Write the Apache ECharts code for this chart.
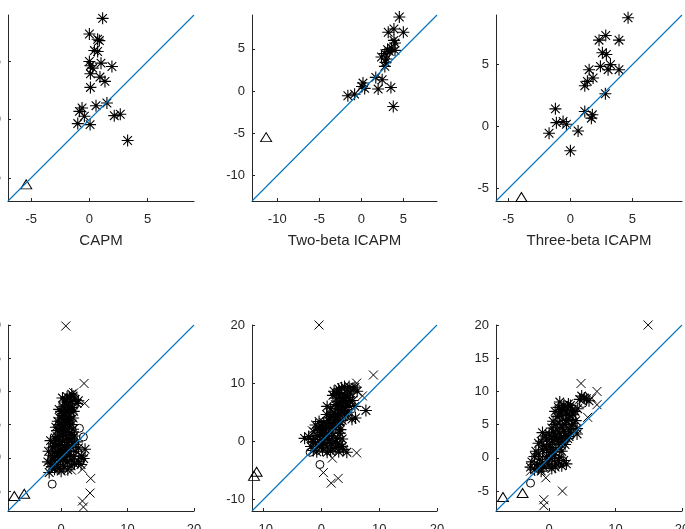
<!doctype html>
<html>
<head>
<meta charset="utf-8">
<title>Pricing errors</title>
<script src="https://cdn.jsdelivr.net/npm/echarts@6/dist/echarts.min.js"></script>
<style>
	html,body{margin:0;padding:0;background:#fff}
	#main{width:685px;height:529px}
</style>
</head>
<body>
<div id="main"></div>
<script>
	// top row: 25 portfolios (*) and the market (triangle)
	var capmStar = [[1.14,8.71],[0,7.37],[0.71,6.91],[0.86,6.8],[0.43,5.94],[0.71,5.86],[0,5.0],[1.0,4.86],[0.09,4.63],[0.29,4.43],
		[1.94,4.57],[0.09,3.94],[0.91,3.66],[1.34,3.29],[0.09,2.77],[1.51,1.43],[0.57,1.2],[-0.63,1.0],[-0.86,0.71],[-0.43,0.29],
		[-1.0,-0.34],[0.06,-0.43],[2.14,0.34],[2.66,0.46],[3.29,-1.8]]
	var capmTri = [[-5.43,-5.57]]

	var twoBetaStar = [[4.52,8.77],[3.88,7.35],[3.2,6.96],[5.0,6.96],[3.88,6.0],[4.0,5.69],[3.12,4.9],[3.32,4.7],[4.0,4.82],[2.8,4.43],
		[2.4,4.03],[3.0,3.79],[2.88,3.4],[2.8,2.92],[1.72,1.62],[2.48,1.34],[0.2,0.95],[0.08,0.55],[0.4,0.32],[2.0,0.24],
		[3.52,0.43],[-0.8,-0.36],[-1.6,-0.55],[3.8,-1.82],[3.6,5.1]]
	var twoBetaTri = [[-11.32,-5.45]]

	var threeBetaStar = [[4.65,8.78],[2.85,7.35],[2.31,6.97],[3.92,6.97],[2.58,5.95],[2.9,5.81],[3.23,5.0],[2.42,4.86],[3.04,4.59],[3.92,4.59],
		[1.51,4.59],[1.37,3.65],[1.83,3.92],[1.16,3.3],[2.82,2.65],[1.16,1.22],[1.77,0.95],[1.69,0.68],[-1.21,1.43],[-1.13,0.32],
		[-0.59,0.41],[-0.32,0.19],[-1.72,-0.54],[0.62,-0.35],[0.0,-1.95]]
	var threeBetaTri = [[-3.95,-5.68]]

	// bottom row: all test assets
	var capmAllStar = [[0.9,9.2],[1.3,9.0],[1.8,9.3],[2.1,8.8],[1.5,8.5],[0.5,8.4],[1.0,8.0],[2.4,8.2],[0.3,7.7],[1.2,7.5],
		[0.7,7.2],[1.7,7.6],[0.0,7.0],[0.9,6.8],[1.5,6.9],[0.4,6.4],[1.1,6.2],[-0.2,6.0],[0.6,5.8],[1.4,5.7],
		[0.2,5.4],[0.9,5.2],[-0.3,5.0],[0.5,4.8],[1.2,4.6],[1.8,4.3],[0.1,4.4],[-0.6,4.1],[0.7,4.0],[1.3,3.8],
		[-0.2,3.6],[0.4,3.4],[2.0,3.3],[-0.9,3.0],[0.8,3.0],[-0.4,2.7],[0.2,2.5],[1.0,2.3],[-1.1,2.2],[-0.5,2.0],
		[0.5,1.8],[1.5,1.6],[-1.3,1.5],[-0.2,1.3],[0.8,1.1],[2.2,1.0],[-0.9,0.9],[0.1,0.7],[1.3,0.5],[-1.5,0.4],
		[-0.5,0.3],[0.6,0.0],[1.9,0.2],[3.1,0.3],[3.6,1.3],[-1.2,-0.2],[-0.1,-0.4],[0.9,-0.6],[2.6,-0.5],[-1.6,-0.9],
		[-0.6,-1.0],[0.4,-1.3],[1.5,-1.2],[-1.0,-1.7],[0.0,-2.0],[3.0,-1.0],[2.4,2.4],[1.6,2.8],[-1.8,-2.2],
		[0.2,9.0],[1.6,9.6],[2.6,8.6],[0.8,8.7],[-0.3,7.3],[1.9,7.0],[0.3,6.7],[1.8,6.0],[-0.5,5.5],[1.0,5.5],
		[1.6,5.0],[-0.8,4.6],[0.3,4.0],[1.6,3.5],[-0.6,3.2],[1.2,2.8],[-1.6,2.6],[0.0,2.0],[1.8,2.0],[-0.9,1.7],
		[0.3,1.2],[1.1,1.0],[-1.9,1.0],[-0.4,0.8],[2.6,1.5],[-1.0,0.0],[0.2,-0.2],[1.6,-0.3],[-2.0,-0.6],[-0.3,-1.6],
		[1.0,-1.8],[2.0,-0.9],[3.4,-0.1],[-1.4,-1.3]]
	var capmAllCross = [[0.7,19.85],[3.45,11.2],[1.9,9.8],[3.55,8.2],[3.2,-1.7],[1.55,-1.85],[4.45,-3.1],[4.35,-5.3],[3.2,-6.5],[3.35,-7.4],[-1.15,-1.8]]
	var capmAllCirc = [[-1.35,-3.95],[2.75,4.45],[3.35,3.15],[2.9,-0.5]]
	var capmAllTri = [[-7.05,-5.75],[-5.55,-5.4]]

	var twoBetaAllStar = [[3.5,9.2],[4.5,8.8],[5.5,9.0],[6.2,8.6],[3.0,8.4],[4.0,8.0],[5.0,8.3],[2.0,7.9],[2.6,7.4],[3.6,7.3],
		[4.6,7.5],[5.4,7.0],[3.1,6.8],[4.2,6.6],[2.4,6.3],[3.5,6.0],[4.8,6.2],[2.8,5.6],[3.9,5.4],[4.6,5.0],
		[2.2,5.0],[3.2,4.7],[4.2,4.4],[5.9,4.0],[7.7,5.3],[5.3,3.8],[1.8,4.2],[2.7,4.0],[3.6,3.6],[1.2,3.6],
		[-0.4,3.4],[0.4,3.2],[2.1,3.2],[3.0,2.9],[-1.0,2.8],[0.0,2.6],[1.5,2.6],[-0.3,2.0],[0.8,2.2],[2.4,2.3],
		[-1.3,1.6],[0.2,1.5],[1.2,1.3],[3.2,1.4],[-0.7,1.0],[0.6,0.8],[2.0,0.9],[-2.9,0.5],[-1.6,0.3],[-0.2,0.3],
		[1.4,0.2],[2.8,0.5],[3.6,0.4],[-1.0,-0.3],[0.4,-0.2],[1.8,-0.4],[3.2,-0.6],[-1.8,-0.9],[-0.4,-0.8],[1.0,-1.0],
		[2.4,-1.1],[3.8,-1.4],[-1.4,-1.6],[0.2,-1.5],[1.6,-1.7],[3.0,-1.8],[4.4,-1.9],[2.2,8.6],[4.0,9.4],[1.0,6.0],
		[1.6,5.6],[5.8,6.0],[3.3,2.0],[0.9,4.6],
		[4.8,9.4],[3.0,9.0],[5.8,9.3],[2.6,8.2],[4.4,7.8],[3.2,7.6],[5.0,7.0],[3.8,6.8],[2.9,6.2],[4.2,5.8],
		[3.4,5.2],[2.4,4.6],[4.0,4.8],[1.4,4.0],[2.4,3.7],[3.2,3.3],[0.9,2.8],[2.0,2.6],[-0.6,2.4],[0.6,1.8],
		[1.8,1.6],[-2.2,0.8],[-0.2,1.2],[1.0,0.4],[2.4,-0.1],[-1.4,-0.1],[0.0,-0.6],[2.0,-1.3],[3.6,-0.9],[-0.8,-1.8],
		[1.0,-1.9]]
	var twoBetaAllCross = [[-0.4,20],[9.0,11.4],[6.1,10.0],[7.1,7.8],[6.1,-2.0],[1.9,-2.9],[0.35,-5.4],[2.9,-6.4],[1.7,-7.2],[-1.55,1.8]]
	var twoBetaAllCirc = [[-0.25,-4.0],[-1.95,-1.9],[3.3,8.6]]
	var twoBetaAllTri = [[-11.65,-5.95],[-11.2,-5.25]]

	var threeBetaAllStar = [[5.3,9.0],[6.0,8.6],[4.6,8.8],[1.4,7.6],[2.2,7.9],[2.8,7.6],[3.5,7.2],[1.8,7.0],[2.6,6.8],[3.6,6.5],
		[4.3,7.4],[1.2,6.2],[2.0,6.0],[3.0,5.8],[4.0,5.6],[0.6,5.5],[1.5,5.2],[2.4,5.0],[3.4,4.8],[4.2,4.4],
		[0.4,4.5],[1.2,4.2],[2.2,4.0],[3.2,3.9],[4.2,3.6],[-1.0,3.8],[0.0,3.6],[0.9,3.3],[1.8,3.1],[2.8,2.9],
		[-0.4,2.8],[0.5,2.5],[1.4,2.4],[2.4,2.0],[-1.6,2.2],[-0.8,1.8],[0.2,1.6],[1.0,1.3],[1.9,1.0],[-1.0,1.2],
		[-2.0,1.0],[0.0,0.8],[-0.4,0.2],[0.8,0.4],[1.6,0.1],[2.2,-0.4],[-2.2,0.2],[-1.4,-0.2],[-0.2,-0.5],[1.0,-0.8],
		[1.9,-1.2],[-2.6,-0.6],[-1.8,-1.0],[-0.8,-1.4],[0.4,-1.6],[-2.2,-1.8],[-1.2,-2.0],[2.6,-0.9],[3.0,3.2],[1.6,8.4],
		[2.9,8.1],[0.9,7.0],
		[4.9,9.3],[5.6,8.9],[1.9,7.3],[3.2,7.9],[2.4,7.2],[3.9,7.0],[3.0,6.4],[1.6,6.6],[2.5,5.6],[3.6,5.2],
		[1.0,5.0],[2.0,4.6],[3.0,4.3],[0.6,3.9],[1.6,3.7],[2.5,3.4],[-0.6,3.3],[0.4,3.0],[1.2,2.8],[2.0,2.4],
		[-1.2,2.5],[0.0,2.0],[1.6,1.6],[-0.4,1.3],[0.6,1.0],[-1.6,0.6],[0.4,-0.1],[1.4,-0.4],[-1.0,-0.8],[0.0,-1.1],
		[-2.8,-1.4],[-1.6,-1.6],[0.9,-1.4]]
	var threeBetaAllCross = [[14.9,20],[4.8,11.2],[7.2,10.0],[6.4,9.0],[7.2,8.0],[5.8,6.1],[-2.8,-2.0],[-0.5,-3.0],[2.0,-5.0],[-0.8,-6.3],[-0.8,-7.2]]
	var threeBetaAllCirc = [[-2.8,-3.8],[5.1,8.2]]
	var threeBetaAllTri = [[-6.95,-5.9],[-4.0,-5.3]]

	// axis ranges and tick labels
	var ranges = [[-7,9],[-13,9],[-6,9],[-8,20],[-12,20],[-8,20]]
	var xTicks = [[-5,0,5],[-10,-5,0,5],[-5,0,5],[0,10,20],[-10,0,10,20],[0,10,20]]
	var yTicks = [[-5,0,5],[-10,-5,0,5],[-5,0,5],[-5,0,5,10,15,20],[-10,0,10,20],[-5,0,5,10,15,20]]
	var xNames = ['CAPM','Two-beta ICAPM','Three-beta ICAPM','','','']

	var stars = [capmStar, twoBetaStar, threeBetaStar, capmAllStar, twoBetaAllStar, threeBetaAllStar]
	var crosses = [[],[],[], capmAllCross, twoBetaAllCross, threeBetaAllCross]
	var circles = [[],[],[], capmAllCirc, twoBetaAllCirc, threeBetaAllCirc]
	var triangles = [capmTri, twoBetaTri, threeBetaTri, capmAllTri, twoBetaAllTri, threeBetaAllTri]

	// layout of the six boxes: left, top, width, height
	var boxes = [[8,15,186,186],[252,15,185,186],[496,15,186,186],[8,325,186,186],[252,325,185,186],[496,325,186,186]]

	var ink = '#262626'
	var blue = '#0072BD'
	var font = 'Liberation Sans, Arial, sans-serif'
	var asterisk = 'path://M0,-1L0,1M-1,0L1,0M-0.72,-0.72L0.72,0.72M-0.72,0.72L0.72,-0.72'
	var xmark = 'path://M-1,-1L1,1M-1,1L1,-1'

	function makeAxis(i, ticks, isX, name){
		return {
			type:'value', gridIndex:i, min:ranges[i][0], max:ranges[i][1],
			name:name || '', nameLocation:'middle', nameGap:32,
			nameTextStyle:{color:ink, fontSize:15, fontFamily:font},
			axisLine:{show:true, onZero:false, lineStyle:{color:ink, width:1}},
			axisTick:{show:true, inside:true, length:3, customValues:ticks, lineStyle:{color:ink}},
			axisLabel:{customValues:ticks, color:ink, fontSize:13, fontFamily:font, margin:isX ? 12 : 7},
			splitLine:{show:false}
		}
	}

	function markers(i, data, symbol, size, w){
		return {
			type:'scatter', xAxisIndex:i, yAxisIndex:i, data:data, symbol:symbol, symbolSize:size,
			itemStyle:{color:'rgba(0,0,0,0)', borderColor:'#000', borderWidth:w, opacity:1},
			emphasis:{disabled:true}, silent:true, z:2
		}
	}

	var grid = [], xAxis = [], yAxis = [], series = []
	for (var i = 0; i < 6; i++) {
		var b = boxes[i]
		grid.push({left:b[0], top:b[1], width:b[2], height:b[3], containLabel:false, outerBoundsMode:'none'})
		xAxis.push(makeAxis(i, xTicks[i], true, xNames[i]))
		yAxis.push(makeAxis(i, yTicks[i], false, ''))
		series.push(markers(i, stars[i], asterisk, 12, 1.1))
		series.push(markers(i, crosses[i], xmark, 9, 1))
		series.push(markers(i, circles[i], 'circle', 8, 1))
		series.push(markers(i, triangles[i], 'triangle', [11,9], 1))
		// 45 degree line across the box
		series.push({
			type:'line', xAxisIndex:i, yAxisIndex:i, symbol:'none', silent:true, z:3,
			color:blue, itemStyle:{color:blue},
			data:[[ranges[i][0],ranges[i][0]],[ranges[i][1],ranges[i][1]]],
			lineStyle:{color:blue, width:1.1}
		})
	}

	var myChart = echarts.init(document.getElementById('main'), null, {renderer:'canvas'})
	myChart.setOption({animation:false, grid:grid, xAxis:xAxis, yAxis:yAxis, series:series})
</script>
</body>
</html>
